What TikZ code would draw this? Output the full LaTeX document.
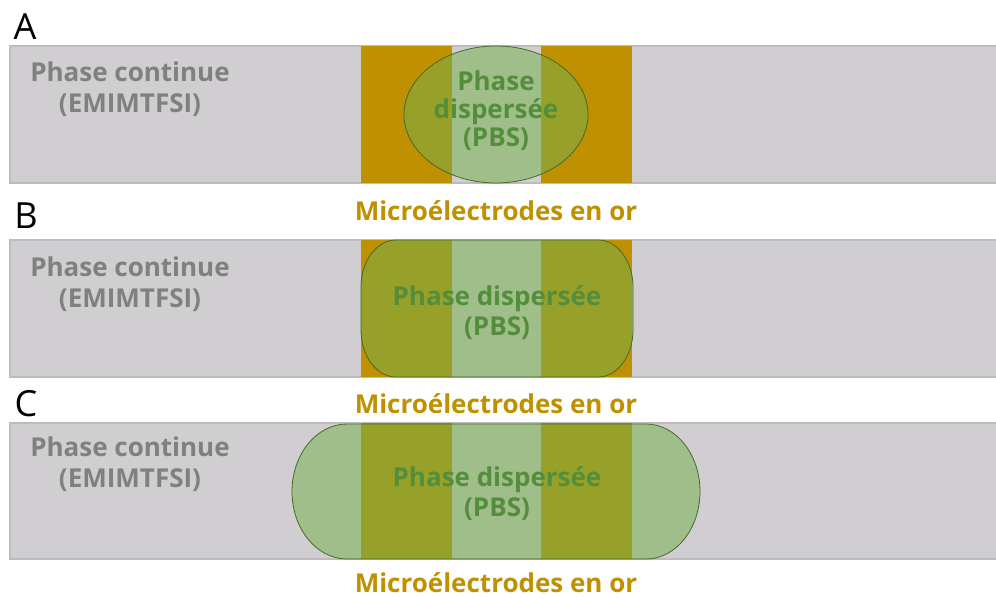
\documentclass[tikz,border=0pt]{standalone}
\usepackage{fontspec}
\setmainfont{Open Sans}
\usetikzlibrary{positioning}
\definecolor{kanal}{RGB}{208,206,208}
\definecolor{kanalrand}{RGB}{188,188,190}
\definecolor{gold}{RGB}{191,144,0}
\definecolor{tropfen}{RGB}{117,176,76}
\definecolor{tropfenrand}{RGB}{70,105,45}
\definecolor{grautext}{RGB}{128,128,128}
\definecolor{gruentext}{RGB}{84,142,60}
\begin{document}
\begin{tikzpicture}[x=1pt, y=-1pt,
		kanal/.style={fill=kanal, draw=kanalrand, line width=1.2pt},
		elektrode/.style={fill=gold},
		tropfen/.style={fill=tropfen, fill opacity=0.53, draw=tropfenrand, line width=0.8pt},
		buchstabe/.style={font=\fontsize{36}{40}\selectfont},
		phasetext/.style={align=center, text=grautext, font=\fontsize{26}{31}\selectfont\bfseries},
		tropfentext/.style={align=center, text=gruentext, font=\fontsize{26}{30}\selectfont\bfseries},
		goldtext/.style={text=gold, inner sep=0pt, font=\fontsize{26}{30}\selectfont\bfseries}]
	\useasboundingbox (0,0) rectangle (996,598);
	% Kanaele zeichnen
	\draw[kanal] (10,46) rectangle (1000,183);
	\draw[kanal] (10,240) rectangle (1000,377);
	\draw[kanal] (10,423) rectangle (1000,559);
	% Elektroden
	\foreach \oben/\unten in {46/183, 240/377, 423/559} {
		\fill[elektrode] (361,\oben) rectangle (452,\unten);
		\fill[elektrode] (541,\oben) rectangle (632,\unten);
	}
	% Tropfen A: Ellipse
	\draw[tropfen] (496,114.5) ellipse [x radius=92, y radius=68.5];
	% Tropfen B: abgerundetes Rechteck (y nach unten)
	\draw[tropfen] (396,240) -- (598,240) arc[start angle=-90, end angle=0, x radius=35, y radius=47]
		-- (633,330) arc[start angle=0, end angle=90, x radius=35, y radius=47]
		-- (396,377) arc[start angle=90, end angle=180, x radius=35, y radius=47]
		-- (361,287) arc[start angle=180, end angle=270, x radius=35, y radius=47] -- cycle;
	% Tropfen C: langgezogen
	\draw[tropfen] (347,424) -- (646,424) arc[start angle=-90, end angle=90, x radius=54, y radius=67.5]
		-- (347,559) arc[start angle=90, end angle=270, x radius=55, y radius=67.5] -- cycle;
	% Beschriftung
	\node[buchstabe] (buchA) at (25,27) {A};
	\node[buchstabe] (buchB) at (26,216) {B};
	\node[buchstabe] (buchC) at (26,404) {C};
	\node[phasetext] (contA) at (130,89) {Phase continue\\(EMIMTFSI)};
	\node[phasetext] (contB) at (130,284) {Phase continue\\(EMIMTFSI)};
	\node[phasetext] (contC) at (130,464) {Phase continue\\(EMIMTFSI)};
	\node[tropfentext, font=\fontsize{26}{28}\selectfont\bfseries] (dispA) at (496,111) {Phase\\dispersée\\(PBS)};
	\node[tropfentext] (dispB) at (497,313) {Phase dispersée\\(PBS)};
	\node[tropfentext] (dispC) at (497,494) {Phase dispersée\\(PBS)};
	\node[goldtext] (elekA) at (496,211) {Microélectrodes en or};
	\node[goldtext] (elekB) at (496,404) {Microélectrodes en or};
	\node[goldtext] (elekC) at (496,583) {Microélectrodes en or};
\end{tikzpicture}
\end{document}
